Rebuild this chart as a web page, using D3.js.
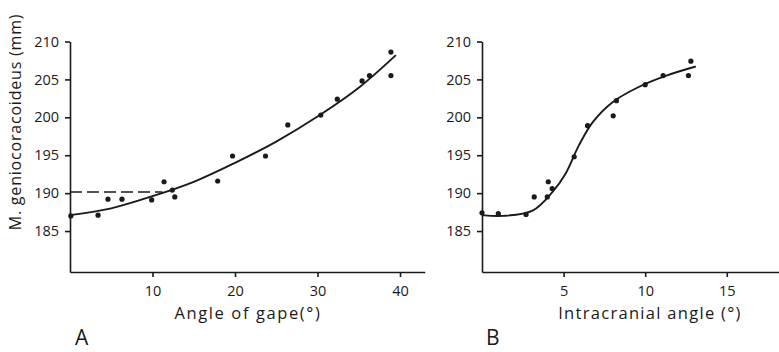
<!DOCTYPE html>
<html>
<head>
<meta charset="utf-8">
<script src="https://cdn.jsdelivr.net/npm/d3@7"></script>
<style>
  body { margin: 0; background: #fff; }
  text { font-family: "Open Sans", sans-serif; fill: #1a1a1a; }
</style>
</head>
<body>
<div id="chart"></div>
<script>
// panel A : angle of gape vs muscle length
var gapeX = [0.1, 3.4, 4.6, 6.3, 9.9, 11.4, 12.4, 12.7, 17.9, 19.7, 23.7, 26.4, 30.4, 32.4, 35.4, 36.3, 38.9, 38.9];
var gapeY = [187.0, 187.1, 189.2, 189.2, 189.1, 191.5, 190.4, 189.5, 191.6, 194.9, 194.9, 199.0, 200.3, 202.4, 204.8, 205.5, 205.5, 208.6];
// fitted curve
var gapeFitX = [0, 5, 10, 15, 20, 25, 30, 35, 39.5];
var gapeFitY = [187.1, 188.0, 189.6, 191.5, 194.0, 196.8, 200.1, 203.9, 208.2];
// dashed level line
var gapeDashX = [0, 11.2];
var gapeDashY = [190.15, 190.15];

// panel B : intracranial angle vs muscle length
var craniX = [0.0, 1.0, 2.7, 3.2, 4.0, 4.06, 4.3, 5.65, 6.47, 8.04, 8.24, 10.0, 11.1, 12.65, 12.8];
var craniY = [187.4, 187.3, 187.2, 189.5, 189.5, 191.5, 190.6, 194.8, 198.9, 200.2, 202.2, 204.3, 205.5, 205.5, 207.4];
var craniFitX = [0, 1.3, 3.1, 4.3, 5.1, 5.96, 6.8, 8.0, 9.6, 11.3, 13.1];
var craniFitY = [187.1, 187.0, 187.7, 190.1, 192.5, 196.4, 199.4, 202.0, 204.0, 205.5, 206.7];

var yTicks = [185, 190, 195, 200, 205, 210];
var gapeTicks = [10, 20, 30, 40];
var craniTicks = [5, 10, 15];

var W = 779, H = 352;
var ink = "#1a1a1a";

var svg = d3.select("#chart").append("svg")
    .attr("width", W)
    .attr("height", H);

var y = d3.scaleLinear().domain([179.6, 210]).range([272, 41.5]);

function panel(opt) {
  var x = d3.scaleLinear().domain(opt.xDomain).range(opt.xRange);
  var g = svg.append("g");

  var xAxis = g.append("g")
      .attr("transform", "translate(0,272)")
      .call(d3.axisBottom(x).tickValues(opt.ticks).tickFormat(d3.format("d"))
        .tickSize(5).tickSizeOuter(0).tickPadding(9));
  var yAxis = g.append("g")
      .attr("transform", "translate(" + opt.xRange[0] + ",0)")
      .call(d3.axisLeft(y).tickValues(yTicks).tickSize(5).tickSizeOuter(0).tickPadding(6));

  [xAxis, yAxis].forEach(function(a) {
    a.selectAll("path, line").attr("stroke", ink).attr("stroke-width", 1.6);
    a.selectAll("text").style("font-family", '"Open Sans", sans-serif')
      .style("font-size", "14.5px").attr("fill", ink);
  });

  var line = d3.line()
      .x(function(d) { return x(d[0]); })
      .y(function(d) { return y(d[1]); });

  g.append("path")
      .datum(d3.zip(opt.fitX, opt.fitY))
      .attr("d", line.curve(d3.curveCatmullRom))
      .attr("fill", "none")
      .attr("stroke", ink)
      .attr("stroke-width", 1.9);

  if (opt.dashX) {
    g.append("path")
        .datum(d3.zip(opt.dashX, opt.dashY))
        .attr("d", d3.line().x(function(d) { return x(d[0]); }).y(function(d) { return y(d[1]); }))
        .attr("fill", "none")
        .attr("stroke", ink)
        .attr("stroke-width", 1.7)
        .attr("stroke-dasharray", "12,5");
  }

  g.append("g").selectAll("circle")
      .data(d3.zip(opt.px, opt.py))
      .enter().append("circle")
      .attr("cx", function(d) { return x(d[0]); })
      .attr("cy", function(d) { return y(d[1]); })
      .attr("r", 2.6)
      .attr("fill", ink);

  g.append("text")
      .attr("x", opt.titleX)
      .attr("y", 319)
      .attr("text-anchor", "middle")
      .style("font-size", "16.5px")
      .style("letter-spacing", opt.spacing)
      .text(opt.title);

  g.append("text")
      .attr("x", opt.letterX)
      .attr("y", 345)
      .style("font-size", "21px")
      .text(opt.letter);
}

panel({
  xDomain: [0, 43], xRange: [70, 424.75], ticks: gapeTicks,
  px: gapeX, py: gapeY, fitX: gapeFitX, fitY: gapeFitY,
  dashX: gapeDashX, dashY: gapeDashY,
  title: "Angle of gape(\u00b0)", titleX: 248, spacing: "1.6px", letter: "A", letterX: 75
});

panel({
  xDomain: [0, 18.2], xRange: [482, 779], ticks: craniTicks,
  px: craniX, py: craniY, fitX: craniFitX, fitY: craniFitY,
  title: "Intracranial angle (\u00b0)", titleX: 650, spacing: "1.3px", letter: "B", letterX: 486
});

svg.append("text")
    .attr("transform", "translate(21,122) rotate(-90)")
    .attr("text-anchor", "middle")
    .style("font-size", "16px")
    .style("letter-spacing", "0.8px")
    .text("M. geniocoracoideus (mm)");
</script>
</body>
</html>
